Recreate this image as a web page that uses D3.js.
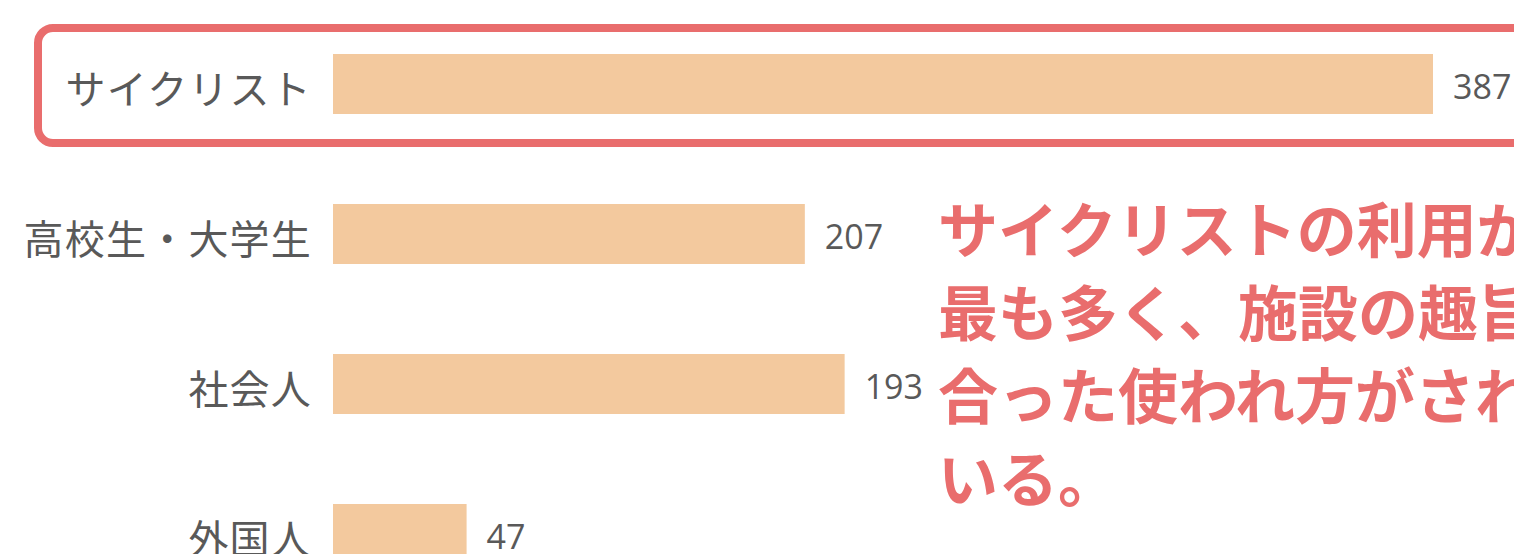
<!DOCTYPE html>
<html>
<head>
<meta charset="utf-8">
<script src="https://cdn.jsdelivr.net/npm/d3@7"></script>
<style>
  html, body { margin: 0; padding: 0; background: #fff; overflow: hidden; }
  svg { display: block; }
</style>
</head>
<body>
<div id="chart"></div>
<script>
// カテゴリと値（ラベルに表示される人数）
const categories = ["サイクリスト", "高校生・大学生", "社会人", "外国人"];
const values = [387, 207, 193, 47];
// 元の図では棒の長さが値に比例していないので、図から読んだ長さ（値の単位）を別に持つ
const barLengths = [387, 166, 180, 47];
// 右側の注記
const noteLines = ["サイクリストの利用が", "最も多く、施設の趣旨に", "合った使われ方がされて", "いる。"];
const highlighted = "サイクリスト";

const W = 1514, H = 554;
const barColor = "#f3c99e";
const accent = "#e96d6d";
const textGray = "#595959";

const svg = d3.select("#chart")
    .append("svg")
    .attr("width", W)
    .attr("height", H);

// x は値→ピクセル、y はカテゴリの帯
const x = d3.scaleLinear()
    .domain([0, d3.max(values)])
    .range([333, 1433]);

const y = d3.scaleBand()
    .domain(categories)
    .range([9, 609])
    .paddingInner(0.6)
    .paddingOuter(0.3);

const rows = categories.map((c, i) => ({ cat: c, value: values[i], len: barLengths[i] }));

// サイクリストを囲む角丸の枠（右端ははみ出す）
svg.append("rect")
    .attr("x", 38)
    .attr("y", y(highlighted) - 26)
    .attr("width", W)
    .attr("height", y.bandwidth() + 55)
    .attr("rx", 15)
    .attr("ry", 15)
    .style("fill", "none")
    .style("stroke", accent)
    .attr("stroke-width", 8);

// 棒
svg.selectAll(".bar")
    .data(rows)
    .enter().append("rect")
    .attr("class", "bar")
    .attr("x", x(0))
    .attr("y", d => y(d.cat))
    .attr("width", d => x(d.len) - x(0))
    .attr("height", y.bandwidth())
    .style("fill", barColor);

// カテゴリ名（左）
svg.selectAll(".cat")
    .data(rows)
    .enter().append("text")
    .attr("class", "cat")
    .attr("x", 312)
    .attr("y", d => y(d.cat) + y.bandwidth() / 2 + 3)
    .attr("dominant-baseline", "central")
    .style("text-anchor", "end")
    .style("font-family", "'Noto Sans CJK JP', sans-serif")
    .style("font-size", "40px")
    .style("letter-spacing", "1.2px")
    .style("fill", textGray)
    .text(d => d.cat);

// 値ラベル（棒の右）
svg.selectAll(".val")
    .data(rows)
    .enter().append("text")
    .attr("class", "val")
    .attr("x", d => x(d.len) + 20)
    .attr("y", d => y(d.cat) + y.bandwidth() / 2 + 2)
    .attr("dominant-baseline", "central")
    .style("font-family", "'Open Sans', sans-serif")
    .style("font-size", "34px")
    .style("fill", textGray)
    .text(d => d.value);

// 注記
svg.append("g")
    .selectAll("text")
    .data(noteLines)
    .enter().append("text")
    .attr("x", 938)
    .attr("y", (d, i) => 226 + i * 83)
    .attr("dominant-baseline", "central")
    .style("font-family", "'Noto Sans CJK JP', sans-serif")
    .style("font-size", "60px")
    .style("font-weight", "bold")
    .style("fill", accent)
    .text(d => d);
</script>
</body>
</html>
